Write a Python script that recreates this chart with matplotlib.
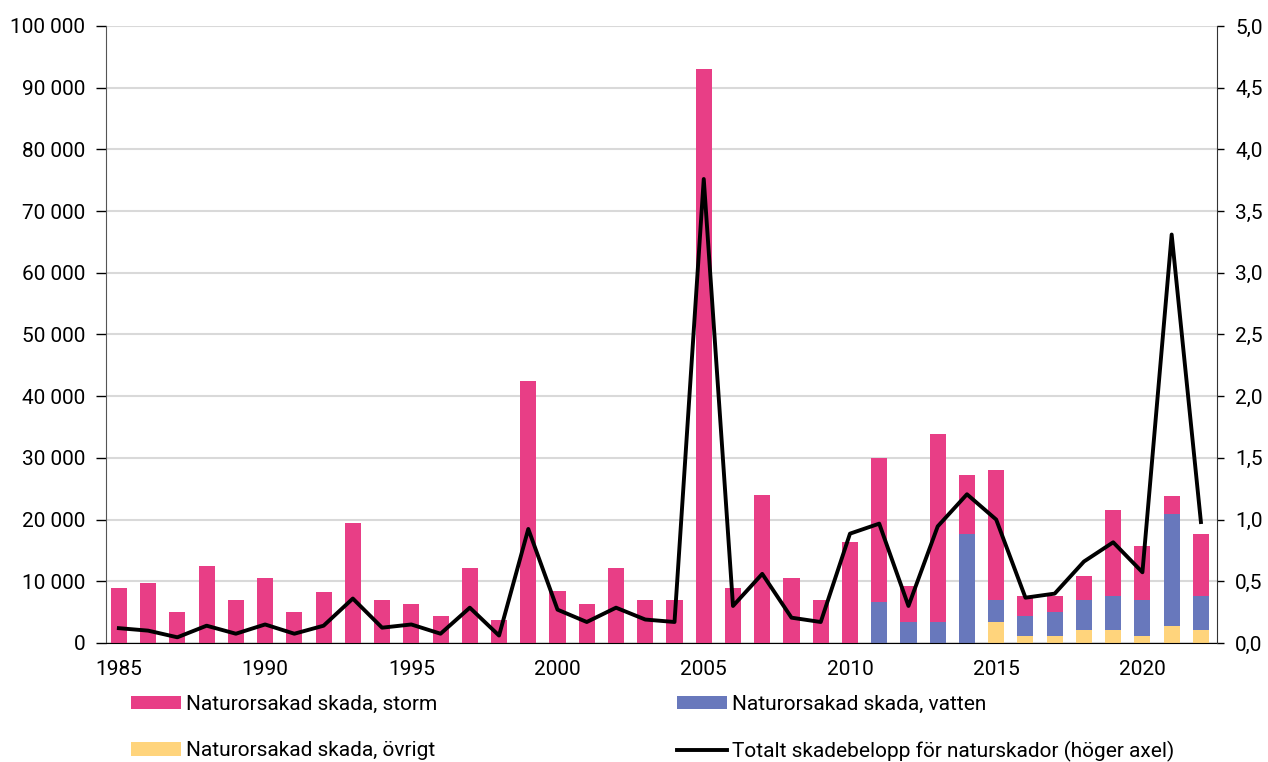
import numpy as np
import matplotlib.pyplot as plt
from matplotlib.ticker import FuncFormatter

plt.rcParams['font.family'] = ['Roboto', 'DejaVu Sans']

years = list(range(1985, 2023))

# stacked bar tops (SEK thousands)
total_top = [8900, 9800, 5000, 12400, 6900, 10500, 5000, 8200, 19500, 6900,
             6300, 4300, 12100, 3700, 42500, 8500, 6300, 12100, 6900, 6900,
             93000, 8900, 24000, 10500, 6900, 16300, 29900, 9200, 33800, 27300,
             28000, 7600, 7600, 10800, 21500, 15700, 23800, 17600]
vatten_top = [0] * 26 + [6600, 3350, 3350, 17600, 6900, 4300, 5000, 6900,
                         7600, 6900, 20900, 7600]
ovrigt = [0] * 30 + [3350, 1080, 1080, 2050, 2050, 1080, 2700, 2050]

total_line = [0.12, 0.10, 0.046, 0.14, 0.075, 0.15, 0.075, 0.14, 0.36, 0.124,
              0.15, 0.075, 0.286, 0.06, 0.924, 0.27, 0.17, 0.286, 0.19, 0.17,
              3.76, 0.30, 0.56, 0.205, 0.17, 0.886, 0.967, 0.30, 0.945, 1.205,
              1.0, 0.367, 0.40, 0.66, 0.816, 0.573, 3.31, 0.98]

labels = ['Naturorsakad skada, storm', 'Naturorsakad skada, vatten',
          'Naturorsakad skada, övrigt',
          'Totalt skadebelopp för naturskador (höger axel)']

ovrigt = np.array(ovrigt)
vt = np.array(vatten_top)
vatten = np.where(vt > 0, vt - ovrigt, 0)
storm = np.where(vt > 0, np.array(total_top) - vt, total_top)

pink, blue, yellow = '#E83E86', '#6878BC', '#FFD47C'

fig = plt.figure(figsize=(12.68, 7.62), dpi=100)
ax = fig.add_axes([106 / 1268, 0.1562, (1217 - 106) / 1268, 0.8097])
x = np.array(years)
w = 0.55
b1 = ax.bar(x, ovrigt, w, color=yellow, zorder=2)
b2 = ax.bar(x, vatten, w, bottom=ovrigt, color=blue, zorder=2)
b3 = ax.bar(x, storm, w, bottom=ovrigt + vatten, color=pink, zorder=2)

ax.set_ylim(0, 100000)
ax.set_yticks(range(0, 100001, 10000))
ax.yaxis.set_major_formatter(FuncFormatter(lambda v, p: f'{int(v):,}'.replace(',', ' ')))
ax.set_xlim(1985 - 0.44, 2022 + 0.55)
ax.set_xticks(range(1985, 2021, 5))
ax.tick_params(axis='x', length=0, pad=12, labelsize=15)
ax.tick_params(axis='y', length=7, width=1, labelsize=15, colors='black', pad=8)
ax.grid(axis='y', color='#d9d9d9', lw=1.5, zorder=0)
ax.set_axisbelow(True)
ax.spines['top'].set_visible(False)
ax.spines['left'].set_color('#555555')
ax.spines['right'].set_visible(False)

ax2 = ax.twinx()
ln, = ax2.plot(x, total_line, color='black', lw=2.8, zorder=3)
ax2.set_ylim(0, 5)
ax2.set_yticks(np.arange(0, 5.01, 0.5))
ax2.yaxis.set_major_formatter(FuncFormatter(lambda v, p: f'{v:.1f}'.replace('.', ',')))
ax2.tick_params(axis='y', length=5, width=1, labelsize=15, pad=8)
for s in ['top', 'left', 'bottom']:
    ax2.spines[s].set_visible(False)
ax2.spines['right'].set_color('#333333')

legkw = dict(frameon=False, fontsize=15, handlelength=2.4, handleheight=0.63,
             handletextpad=0.25, labelspacing=1.3, borderpad=0, borderaxespad=0,
             loc='upper left')
fig.legend([b3, b1], [labels[0], labels[2]], bbox_to_anchor=(131 / 1268, 1 - 695 / 762), **legkw)
fig.legend([b2, ln], [labels[1], labels[3]], bbox_to_anchor=(677 / 1268, 1 - 695 / 762), **legkw)

fig.savefig('out.png', dpi=100)
